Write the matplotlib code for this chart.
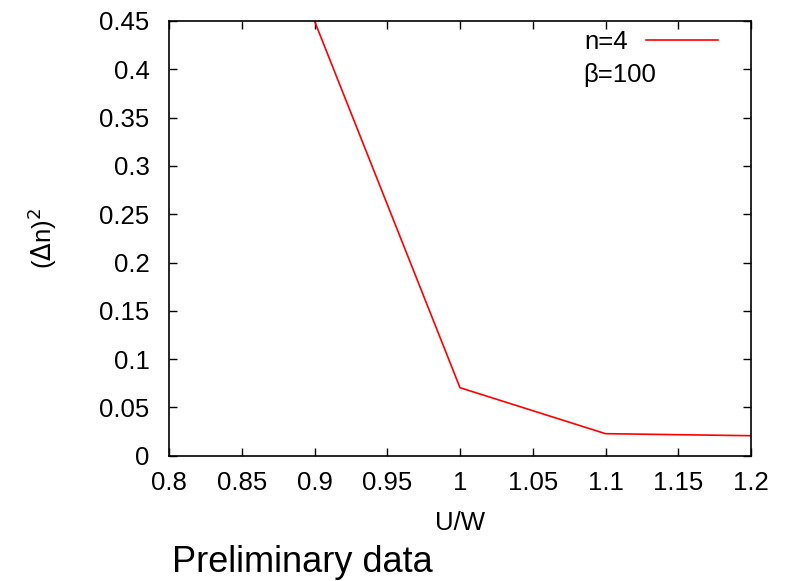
import matplotlib
matplotlib.use("Agg")
import matplotlib.pyplot as plt

plt.rcParams['font.family'] = ['Liberation Sans', 'DejaVu Sans']

# Number fluctuation vs interaction strength, n=4, beta=100
u_over_w = [0.9, 1.0, 1.1, 1.2]
delta_n_sq = [0.45, 0.0704, 0.0228, 0.0207]

x_ticks = [0.8, 0.85, 0.9, 0.95, 1.0, 1.05, 1.1, 1.15, 1.2]
x_labels = ["0.8", "0.85", "0.9", "0.95", "1", "1.05", "1.1", "1.15", "1.2"]
y_ticks = [0, 0.05, 0.1, 0.15, 0.2, 0.25, 0.3, 0.35, 0.4, 0.45]
y_labels = ["0", "0.05", "0.1", "0.15", "0.2", "0.25", "0.3", "0.35", "0.4", "0.45"]

W, H = 796, 581
ax_l, ax_r, ax_t, ax_b = 169, 751, 21, 455.7

fig = plt.figure(figsize=(W / 100, H / 100), dpi=100)
ax = fig.add_axes([ax_l / W, 1 - ax_b / H, (ax_r - ax_l) / W, (ax_b - ax_t) / H])

line, = ax.plot(u_over_w, delta_n_sq, color='#ff0000', lw=1.2)

ax.set_xlim(0.8, 1.2)
ax.set_ylim(0, 0.45)
ax.set_xticks(x_ticks)
ax.set_xticklabels(x_labels)
ax.set_yticks(y_ticks)
ax.set_yticklabels(y_labels)
ax.tick_params(direction='in', length=6, width=1, top=True, right=True,
               labelsize=18.5)
ax.tick_params(axis='x', pad=11)
ax.tick_params(axis='y', pad=14)
for s in ax.spines.values():
    s.set_linewidth(1.2)

# axis titles
fig.text(460 / W, 1 - 523 / H, "U/W", fontsize=18.5, ha='center', va='center')
fig.text(42 / W, 1 - 238 / H, r"($\Delta$n)$^2$", fontsize=18.5, rotation=90,
         ha='center', va='center')

leg = ax.legend([line], ["n=4"], loc='center right', frameon=False,
                fontsize=18.5, markerfirst=False, handlelength=2.8,
                handletextpad=0.7, borderpad=0, borderaxespad=0,
                bbox_to_anchor=((718 - ax_l) / (ax_r - ax_l),
                                (ax_b - 42) / (ax_b - ax_t)))
fig.text(620 / W, 1 - 75 / H, "β=100", fontsize=18.5, ha='center', va='center')

fig.text(172 / W, 1 - 563 / H, "Preliminary data", fontsize=26, ha='left', va='center')

fig.savefig("out.png", dpi=100)
